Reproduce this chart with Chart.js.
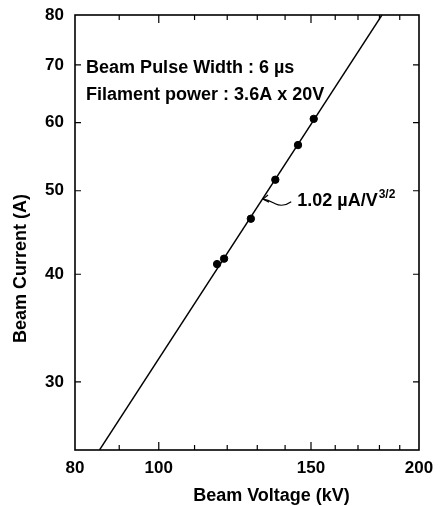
<!DOCTYPE html>
<html lang="en">
<head>
  <meta charset="UTF-8">
  <title>Beam Current vs Beam Voltage</title>
  <script src="https://cdn.jsdelivr.net/npm/chart.js"></script>
  <style>
    body {
      background-color: white;
      margin: 0;
      padding: 0;
    }
    canvas {
      display: block;
    }
  </style>
</head>
<body>

  <canvas id="perveanceChart" width="441" height="506"></canvas>

  <script>
    // measured points
    const voltage = [116.8, 119.0, 127.8, 136.4, 144.9, 151.1];
    const current = [41.1, 41.7, 46.4, 51.5, 56.5, 60.6];

    // 1.02 uA/V^3/2 line, end points
    const fitVoltage = [85.4, 181.2];
    const fitCurrent = [25, 80];

    const xTicks = [80, 90, 100, 110, 120, 130, 140, 150, 160, 170, 180, 190, 200];
    const xLabels = [80, 100, 150, 200];
    const xMajor = [100, 150];
    const yTicks = [30, 40, 50, 60, 70, 80];

    const FONT = '"Liberation Sans", Arial, Helvetica, sans-serif';

    // texts drawn by hand, anchored in data units
    const notes = {
      pulse: { text: 'Beam Pulse Width : 6 \u00b5s', x: 82.4, y: 69.4 },
      filament: { text: 'Filament power : 3.6A x 20V', x: 82.4, y: 64.6 },
      perv: { text: '1.02 \u00b5A/V', sup: '3/2', x: 144.6, y: 48.6 },
      arrowTip: { x: 132.0, y: 48.9 },
      arrowTail: { x: 142.3, y: 48.3 }
    };

    const marcoYTicks = {
      id: 'marcoYTicks',
      afterDraw(chart) {
        const { ctx, chartArea: a, scales } = chart;
        const sx = scales.x, sy = scales.y;
        ctx.save();
        ctx.strokeStyle = '#000';
        ctx.fillStyle = '#000';

        // frame
        ctx.lineWidth = 1.6;
        ctx.strokeRect(a.left, a.top, a.right - a.left, a.bottom - a.top);

        // inward ticks
        ctx.lineWidth = 1.2;
        ctx.beginPath();
        xTicks.forEach(v => {
          if (v === 80 || v === 200) return;
          const px = sx.getPixelForValue(v);
          const len = xMajor.includes(v) ? 8 : 5;
          ctx.moveTo(px, a.bottom); ctx.lineTo(px, a.bottom - len);
          ctx.moveTo(px, a.top); ctx.lineTo(px, a.top + len);
        });
        yTicks.forEach(v => {
          if (v === 80) return;
          const py = sy.getPixelForValue(v);
          ctx.moveTo(a.left, py); ctx.lineTo(a.left + 6, py);
          ctx.moveTo(a.right, py); ctx.lineTo(a.right - 6, py);
        });
        ctx.stroke();

        // annotations
        ctx.font = 'bold 18px ' + FONT;
        ctx.textBaseline = 'middle';
        ctx.textAlign = 'left';
        [notes.pulse, notes.filament].forEach(n => {
          ctx.fillText(n.text, sx.getPixelForValue(n.x), sy.getPixelForValue(n.y));
        });
        const px = sx.getPixelForValue(notes.perv.x);
        const py = sy.getPixelForValue(notes.perv.y);
        ctx.fillText(notes.perv.text, px, py);
        const w = ctx.measureText(notes.perv.text).width;
        ctx.font = 'bold 12px ' + FONT;
        ctx.fillText(notes.perv.sup, px + w + 1, py - 7);

        // wavy arrow
        const tx = sx.getPixelForValue(notes.arrowTip.x), ty = sy.getPixelForValue(notes.arrowTip.y);
        const ex = sx.getPixelForValue(notes.arrowTail.x), ey = sy.getPixelForValue(notes.arrowTail.y);
        ctx.lineWidth = 1.2;
        ctx.beginPath();
        ctx.moveTo(ex, ey - 2);
        ctx.bezierCurveTo(ex - 7, ey + 3, ex - 12, ey + 2, ex - 16, ey);
        ctx.bezierCurveTo(ex - 20, ey - 2, tx + 6, ty + 1, tx, ty);
        ctx.stroke();
        ctx.beginPath();
        ctx.moveTo(tx + 5, ty - 4);
        ctx.lineTo(tx, ty);
        ctx.lineTo(tx + 6, ty + 3);
        ctx.stroke();

        // axis titles
        ctx.font = 'bold 18px ' + FONT;
        ctx.textAlign = 'center';
        ctx.fillText('Beam Voltage (kV)', 271.5, 496);
        ctx.translate(21.5, 268.5);
        ctx.rotate(-Math.PI / 2);
        ctx.fillText('Beam Current (A)', 0, 0);
        ctx.restore();
      }
    };

    const ctx = document.getElementById('perveanceChart').getContext('2d');
    const chart = new Chart(ctx, {
      type: 'scatter',
      data: {
        datasets: [{
          label: 'fit',
          data: fitVoltage.map((v, i) => ({ x: v, y: fitCurrent[i] })),
          showLine: true,
          borderColor: '#000',
          borderWidth: 1.4,
          pointRadius: 0
        }, {
          label: 'measured',
          data: voltage.map((v, i) => ({ x: v, y: current[i] })),
          showLine: false,
          backgroundColor: '#000',
          borderColor: '#000',
          pointRadius: 3.7
        }]
      },
      options: {
        responsive: false,
        animation: false,
        layout: { padding: { top: 15, right: 22, left: 0, bottom: 0 } },
        plugins: {
          legend: { display: false },
          tooltip: { enabled: false }
        },
        scales: {
          x: {
            type: 'logarithmic',
            min: 80,
            max: 200,
            afterBuildTicks: s => { s.ticks = xTicks.map(v => ({ value: v })); },
            afterFit: s => { s.height = 56; s.paddingLeft = 0; s.paddingRight = 0; },
            grid: { display: false, drawTicks: false },
            border: { display: false },
            ticks: {
              autoSkip: false,
              maxRotation: 0,
              padding: 8,
              color: '#000',
              font: { family: FONT, size: 17, weight: 'bold' },
              callback: v => xLabels.includes(v) ? String(v) : ''
            }
          },
          y: {
            type: 'logarithmic',
            min: 25,
            max: 80,
            afterBuildTicks: s => { s.ticks = yTicks.map(v => ({ value: v })); },
            afterFit: s => { s.width = 75; s.paddingTop = 0; s.paddingBottom = 0; },
            grid: { display: false, drawTicks: false },
            border: { display: false },
            ticks: {
              autoSkip: false,
              padding: 11,
              color: '#000',
              font: { family: FONT, size: 17, weight: 'bold' },
              callback: v => String(v)
            }
          }
        }
      },
      plugins: [marcoYTicks]
    });
  </script>

</body>
</html>
